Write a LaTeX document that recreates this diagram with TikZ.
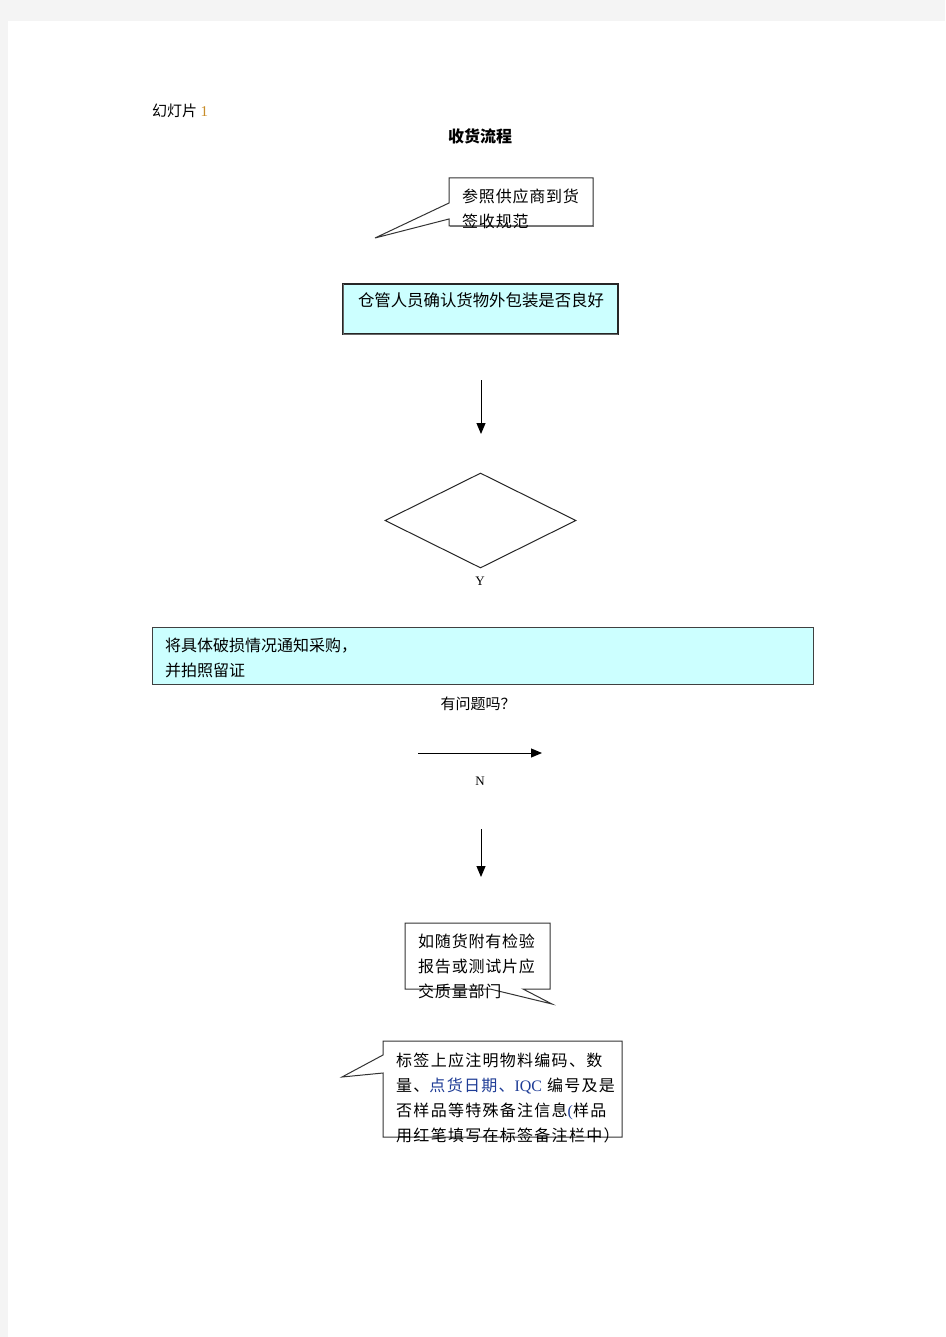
\documentclass[tikz,border=0pt]{standalone}
\usepackage{fontspec}
\setmainfont{Liberation Serif}
\newfontfamily\cjk{Noto Sans CJK SC}
\newfontfamily\cjka{Noto Sans CJK SC}[LetterSpace=5]
\newfontfamily\cjkb{Noto Sans CJK SC}[LetterSpace=8]
\usetikzlibrary{arrows.meta,shapes.geometric}
\definecolor{boxcyan}{HTML}{CCFFFF}
\definecolor{pagegray}{HTML}{F4F4F4}
\definecolor{numorange}{RGB}{200,140,40}
\definecolor{txtblue}{RGB}{30,60,150}
\tikzset{
 txt/.style={inner sep=0pt, font=\cjk\fontsize{16}{25}\selectfont, align=left},
 txta/.style={inner sep=0pt, font=\cjka\fontsize{16}{25}\selectfont, align=left},
 txtb/.style={inner sep=0pt, font=\cjkb\fontsize{16}{25}\selectfont, align=left},
 cyanbox/.style={draw=black!85, line width=1.2pt, fill=boxcyan, inner sep=0pt},
 callout/.style={draw=black!80, line width=1pt, fill=white, line join=miter},
 arr/.style={line width=1pt, -{Triangle[length=11pt,width=9pt]}},
 lbl/.style={inner sep=0pt, font=\rmfamily\fontsize{13}{15}\selectfont},
}
\begin{document}
\begin{tikzpicture}[x=1pt,y=-1pt]
\useasboundingbox (0,0) rectangle (945,1337);
\fill[pagegray] (0,0) rectangle (945,1337);
\fill[white] (8,21) rectangle (945,1337);

% header
\node[inner sep=0pt, anchor=west, font=\cjk\fontsize{15}{18}\selectfont] (hdr) at (152,111) {幻灯片 {\rmfamily\color{numorange}1}};
\node[inner sep=0pt, font=\cjk\bfseries\fontsize{16}{20}\selectfont] (title) at (480,136) {收货流程};

% callout 1
\draw[callout] (449,178) -- (593,178) -- (593,226) -- (449,226) -- (449,219) -- (375,238) -- (449,203) -- cycle;
\draw[black!55, line width=1pt] (450,226.8) -- (593.8,226.8) -- (593.8,178.5);
\node[txta, anchor=west] (c1) at (462,208.5) {参照供应商到货\\签收规范};

% box 1
\node[cyanbox, minimum width=275pt, minimum height=50pt] (b1) at (480.5,309) {};
\draw[black!60, line width=1.2pt] (343.6,284) -- (343.6,334.6) -- (618,334.6);
\node[txt, font=\cjk\fontsize{16.4}{20}\selectfont] (t1) at (481,300) {仓管人员确认货物外包装是否良好};

% arrow 1
\coordinate (a1s) at (481,380);
\coordinate (a1e) at (481,434);
\draw[arr] (a1s) -- (a1e);

% diamond
\node[diamond, draw=black!85, line width=1pt, minimum width=191pt, minimum height=95pt, inner sep=0pt, aspect=2] (d) at (480.5,520.5) {};
\node[lbl] (ylbl) at (480,581) {Y};

% wide box
\node[cyanbox, draw=black!75, line width=1pt, minimum width=661pt, minimum height=57pt] (b2) at (482.5,655.5) {};
\node[txt, anchor=west] (t2) at (165,657.5) {将具体破损情况通知采购，\\并拍照留证};

\node[inner sep=0pt, font=\cjk\fontsize{15}{18}\selectfont] (q) at (478,704) {有问题吗？};

% arrow N
\coordinate (a2s) at (418,753);
\coordinate (a2e) at (542,753);
\draw[arr] (a2s) -- (a2e);
\node[lbl] (nlbl) at (480,781) {N};

% arrow 3
\coordinate (a3s) at (481,829);
\coordinate (a3e) at (481,877);
\draw[arr] (a3s) -- (a3e);

% callout 2
\draw[callout] (405,923) -- (550,923) -- (550,989) -- (523,989) -- (552,1004) -- (490,989) -- (405,989) -- cycle;
\node[txta, anchor=west] (c2) at (418,966) {如随货附有检验\\报告或测试片应\\交质量部门};

% callout 3
\draw[callout] (383,1041) -- (622,1041) -- (622,1137) -- (383,1137) -- (383,1073) -- (342,1077) -- (383,1055) -- cycle;
\node[txtb, anchor=west] (c3) at (396,1098) {标签上应注明物料编码、数\\量、{\color{txtblue}点货日期、{\rmfamily IQC}} 编号及是\\否样品等特殊备注信息{\rmfamily\color{txtblue}(}样品\\用红笔填写在标签备注栏中）};
\end{tikzpicture}
\end{document}
